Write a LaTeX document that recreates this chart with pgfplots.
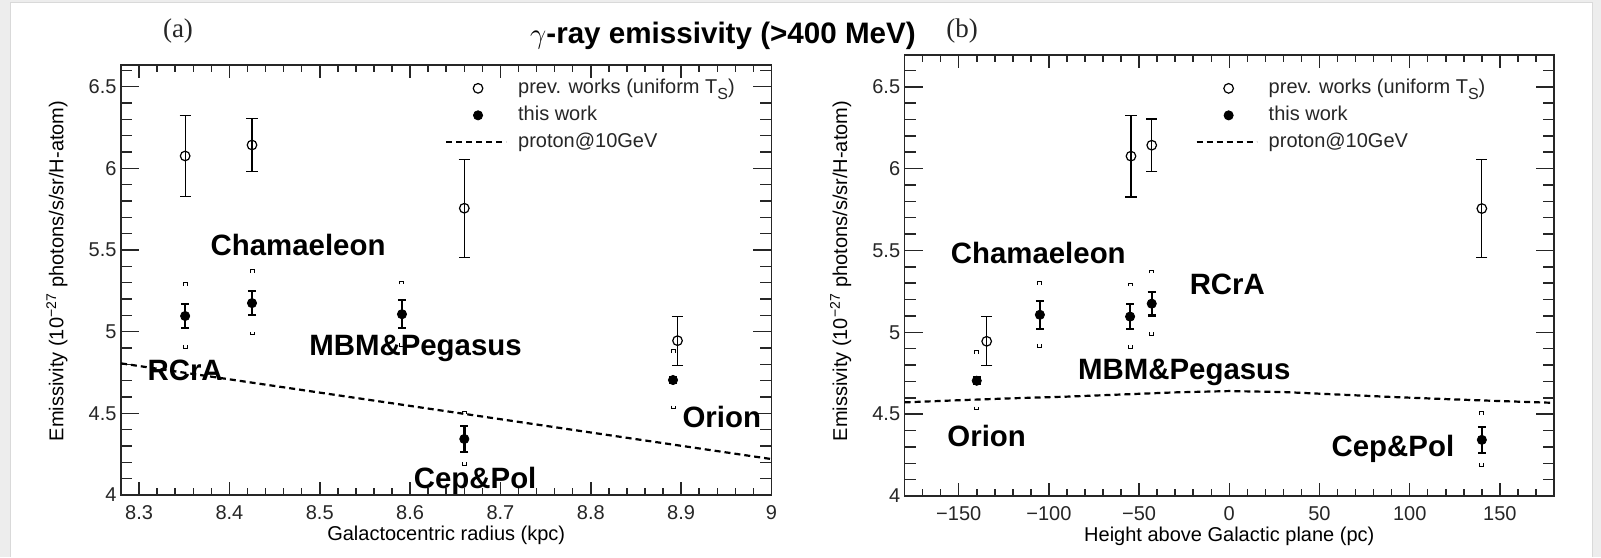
\documentclass[border=0pt]{standalone}
\usepackage{fontspec}
\setmainfont{Liberation Sans}
\newfontfamily\seriffont{Liberation Serif}
\usepackage{pgfplots}
\usepackage{pgfplotstable}
\pgfplotsset{compat=1.18}

\pgfdeclareplotmark{systop}{%
  \pgfpathmoveto{\pgfqpoint{-1pt}{-1.6pt}}%
  \pgfpathlineto{\pgfqpoint{-1pt}{0pt}}%
  \pgfpathlineto{\pgfqpoint{1pt}{0pt}}%
  \pgfpathlineto{\pgfqpoint{1pt}{-1.6pt}}%
  \pgfusepathqstroke}
\pgfdeclareplotmark{sysbot}{%
  \pgfpathmoveto{\pgfqpoint{-1pt}{1.6pt}}%
  \pgfpathlineto{\pgfqpoint{-1pt}{0pt}}%
  \pgfpathlineto{\pgfqpoint{1pt}{0pt}}%
  \pgfpathlineto{\pgfqpoint{1pt}{1.6pt}}%
  \pgfusepathqstroke}

% ---- data, panel (a) ----
\pgfplotstableread{
x y e
8.351 6.076 0.25
8.425 6.143 0.16
8.660 5.756 0.30
8.896 4.945 0.15
}\prevA
\pgfplotstableread{
x y e
8.351 5.096 0.075
8.425 5.175 0.072
8.591 5.107 0.085
8.660 4.343 0.080
8.891 4.704 0.020
}\thisA
\pgfplotstableread{
x hi lo
8.351 5.30 4.90
8.425 5.38 4.98
8.591 5.31 4.91
8.660 4.514 4.18
8.891 4.89 4.527
}\sysA
\pgfplotstableread{
x y
8.28 4.806
9.00 4.220
}\protA
% ---- data, panel (b) ----
\pgfplotstableread{
x y e
-54.5 6.076 0.25
-43.0 6.143 0.16
140.0 5.756 0.30
-134.5 4.945 0.15
}\prevB
\pgfplotstableread{
x y e
-55 5.096 0.075
-43 5.175 0.072
-105 5.107 0.085
140 4.343 0.080
-140 4.704 0.020
}\thisB
\pgfplotstableread{
x hi lo
-55 5.30 4.90
-43 5.38 4.98
-105 5.31 4.91
140 4.514 4.18
-140 4.89 4.527
}\sysB
\pgfplotstableread{
x y
-180 4.572
-150 4.585
-120 4.597
-90 4.607
-60 4.620
-30 4.633
0 4.641
30 4.635
60 4.620
90 4.605
120 4.592
150 4.580
180 4.569
}\protB

\tikzset{lbl/.style={anchor=base, font=\bfseries\fontsize{14.7}{14.7}\selectfont}}

\pgfplotsset{
  legmark/.style={legend image code/.code={\path[draw=none, fill=none] (0pt,-1pt) rectangle (30pt,1pt); \draw[mark repeat=2,mark phase=2,##1] plot coordinates {(0pt,0pt) (16pt,0pt) (30pt,0pt)};}},
  legline/.style={legend image code/.code={\path[draw=none, fill=none] (0pt,-1pt) rectangle (30pt,1pt); \draw[##1] (0pt,0pt) -- (30pt,0pt);}},
  emis/.style={
    scale only axis, anchor=south west, clip=false,
    ymin=4,
    ytick={4,4.5,5,5.5,6,6.5},
    yticklabels={4,4.5,5,5.5,6,6.5},
    minor ytick={4,4.1,...,6.65},
    tick align=inside,
    axis line style={line width=0.75pt, black!85},
    every tick/.style={line width=0.75pt, black!85},
    major tick length=6.5pt, minor tick length=3.5pt,
    ytick style={/pgfplots/major tick length=9pt, /pgfplots/minor tick length=5.5pt},
    ticklabel style={font=\fontsize{10}{10}\selectfont, text=black!85},
    xticklabel style={yshift=-1.7pt},
    yticklabel style={xshift=1.3pt},
    label style={font=\fontsize{10.5}{10.5}\selectfont, text=black!85},
    every axis x label/.style={at={(axis description cs:0.5,0)}, anchor=base, yshift=-22.5pt},
    legend cell align=left,
    legend style={draw=none, fill=none, inner sep=0pt, outer sep=0pt, anchor=north west,
      row sep=3.5pt, font=\fontsize{10}{10}\selectfont, text=black!85,
      nodes={inner sep=0pt, text height=7.5pt, text depth=2.5pt},
      /tikz/every odd column/.append style={column sep=5.5pt}},
  },
  prevsty/.style={black, only marks, mark=o, mark size=2.4pt, mark options={line width=0.6pt}, forget plot,
    error bars/.cd, y dir=both, y explicit,
    error bar style={line width=0.6pt, black},
    error mark options={rotate=90, mark size=2.8pt, line width=0.6pt, black}},
  thissty/.style={black, only marks, mark=*, mark size=2.3pt, forget plot,
    error bars/.cd, y dir=both, y explicit,
    error bar style={line width=1.2pt, black},
    error mark options={rotate=90, mark size=2pt, line width=1.1pt, black}},
}

\newcommand{\legendstuff}{%
  \addlegendimage{legmark, only marks, mark=o, mark size=2.4pt, black, mark options={line width=0.6pt}}
  \addlegendentry{prev. works (uniform T\raisebox{-3.3pt}{\fontsize{8}{8}\selectfont S})}
  \addlegendimage{legmark, only marks, mark=*, mark size=2.3pt, black}
  \addlegendentry{this work}
  \addlegendimage{legline, black, line width=1.1pt, dash pattern=on 3pt off 2pt}
  \addlegendentry{proton@10GeV}
}
\newcommand{\titletext}{$\gamma$-ray emissivity (\textgreater400 MeV)}

\begin{document}
\begin{tikzpicture}
\useasboundingbox (0,0) rectangle (800.5pt,278.5pt);
\fill[black!7] (0,0) rectangle (800.5pt,278.5pt);
\fill[white] (5pt,0) rectangle (796pt,277pt);
\draw[black!15, line width=0.5pt] (5pt,0) -- (5pt,277pt) -- (796pt,277pt) -- (796pt,0);

% ---------------- panel (a) ----------------
\begin{axis}[emis,
  at={(60.5pt,31pt)}, width=325.25pt, height=215pt,
  xmin=8.28, xmax=9.0, ymax=6.633,
  xtick={8.3,8.4,8.5,8.6,8.7,8.8,8.9,9},
  xticklabels={8.3,8.4,8.5,8.6,8.7,8.8,8.9,9},
  minor xtick={8.28,8.30,...,9.0},
  xlabel={Galactocentric radius (kpc)},
  ylabel={Emissivity (10\textsuperscript{−27} photons/s/sr/H-atom)},
  every axis y label/.style={at={(axis description cs:-0.0984,0.521)}, rotate=90, anchor=center},
  legend style={at={(0.498,0.969)}},
]
\legendstuff
\addplot[black, line width=1.1pt, dash pattern=on 3pt off 2pt, forget plot] table[x=x,y=y] {\protA};
\addplot[prevsty] table[x=x,y=y,y error=e] {\prevA};
\addplot[thissty] table[x=x,y=y,y error=e] {\thisA};
\addplot[black, only marks, mark=systop, mark options={line width=0.5pt}, forget plot] table[x=x,y=hi] {\sysA};
\addplot[black, only marks, mark=sysbot, mark options={line width=0.5pt}, forget plot] table[x=x,y=lo] {\sysA};
\node[lbl] at (axis cs:8.476,5.464) {Chamaeleon};
\node[lbl] at (axis cs:8.351,4.704) {RCrA};
\node[lbl] at (axis cs:8.606,4.857) {MBM\&Pegasus};
\node[lbl] at (axis cs:8.672,4.041) {Cep\&Pol};
\node[lbl] at (axis cs:8.945,4.415) {Orion};
\end{axis}

% ---------------- panel (b) ----------------
\begin{axis}[emis,
  at={(452.3pt,30.5pt)}, width=324.7pt, height=220.5pt,
  xmin=-180, xmax=180, ymax=6.694,
  xtick={-150,-100,-50,0,50,100,150},
  xticklabels={−150,−100,−50,0,50,100,150},
  minor xtick={-180,-170,...,180},
  xlabel={Height above Galactic plane (pc)},
  ylabel={Emissivity (10\textsuperscript{−27} photons/s/sr/H-atom)},
  every axis y label/.style={at={(axis description cs:-0.0985,0.510)}, rotate=90, anchor=center},
  legend style={at={(0.448,0.947)}},
]
\legendstuff
\addplot[black, line width=1.1pt, dash pattern=on 3pt off 2pt, forget plot] table[x=x,y=y] {\protB};
\addplot[prevsty] table[x=x,y=y,y error=e] {\prevB};
\addplot[thissty] table[x=x,y=y,y error=e] {\thisB};
\addplot[black, only marks, mark=systop, mark options={line width=0.5pt}, forget plot] table[x=x,y=hi] {\sysB};
\addplot[black, only marks, mark=sysbot, mark options={line width=0.5pt}, forget plot] table[x=x,y=lo] {\sysB};
\node[lbl] at (axis cs:-105.9,5.423) {Chamaeleon};
\node[lbl] at (axis cs:-1.1,5.228) {RCrA};
\node[lbl] at (axis cs:-24.9,4.709) {MBM\&Pegasus};
\node[lbl] at (axis cs:-134.5,4.301) {Orion};
\node[lbl] at (axis cs:90.7,4.24) {Cep\&Pol};
\end{axis}

% ---------------- titles ----------------
\path (361.5pt,256.85pt) node[anchor=base, font=\bfseries\fontsize{14.8}{14.8}\selectfont] {\titletext};
\path (89pt,259.85pt) node[anchor=base, font=\seriffont\fontsize{13.5}{13.5}\selectfont, text=black!85] {(a)};
\path (481pt,259.85pt) node[anchor=base, font=\seriffont\fontsize{13.5}{13.5}\selectfont, text=black!85] {(b)};
\end{tikzpicture}
\end{document}
